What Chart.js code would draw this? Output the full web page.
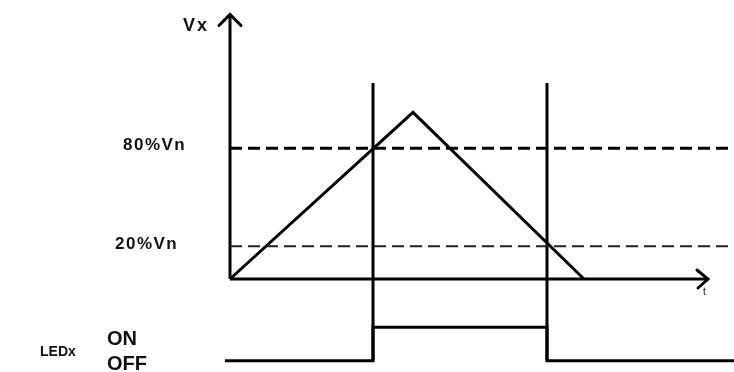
<!DOCTYPE html>
<html>
<head>
<meta charset="utf-8">
<script src="https://cdn.jsdelivr.net/npm/chart.js@4.4.1/dist/chart.umd.min.js"></script>
<style>
  html, body { margin: 0; padding: 0; background: #fff; }
  #wrap { width: 734px; height: 372px; }
</style>
</head>
<body>
<div id="wrap"><canvas id="chart" width="734" height="372"></canvas></div>
<script>
// Signal Vx (en %Vn) en fonction du temps
const rampTime = [0, 18.3, 35.4];
const rampLevel = [0, 102, 0];

// Seuils
const thresholdLevels = [80, 20];
const thresholdLabels = ['80%Vn', '20%Vn'];

// Instants de commutation de la LED
const switchTimes = [14.3, 31.7];
const switchTop = 120;

// Etat de la LED (bas = OFF, haut = ON)
const ledTime = [-0.5, 14.3, 14.3, 31.7, 31.7, 50.4];
const ledLevel = [-50, -50, -29.5, -29.5, -50, -50];
const ledStates = ['ON', 'OFF'];

// Axes
const axisTime = [0, 47.8];
const axisLevel = [0, 162];

function pts(xs, ys) {
    return xs.map((x, i) => ({ x: x, y: ys[i] }));
}

const datasets = [];

// Seuil 80 % (trait épais) et 20 % (trait fin)
datasets.push({
    data: pts([0, 50.4], [thresholdLevels[0], thresholdLevels[0]]),
    borderColor: '#000', borderWidth: 3, borderDash: [12, 6]
});
datasets.push({
    data: pts([0, 50.4], [thresholdLevels[1], thresholdLevels[1]]),
    borderColor: '#222', borderWidth: 2, borderDash: [12, 6]
});

// Axes
datasets.push({ data: pts([0, 0], [0, axisLevel[1]]), borderColor: '#000', borderWidth: 3 });
datasets.push({ data: pts([0, axisTime[1]], [0, 0]), borderColor: '#000', borderWidth: 3 });

// Rampe
datasets.push({ data: pts(rampTime, rampLevel), borderColor: '#000', borderWidth: 3 });

// Lignes de commutation
switchTimes.forEach((t) => {
    datasets.push({ data: pts([t, t], [switchTop, -50]), borderColor: '#000', borderWidth: 3 });
});

// Signal LED
datasets.push({ data: pts(ledTime, ledLevel), borderColor: '#000', borderWidth: 3 });

// Plugin pour les flèches et les textes
const annotations = {
    id: 'annotations',
    afterDatasetsDraw(chart) {
        const ctx = chart.ctx;
        const xs = chart.scales.x;
        const ys = chart.scales.y;
        const x0 = xs.getPixelForValue(0);
        const y0 = ys.getPixelForValue(0);
        const yTop = ys.getPixelForValue(axisLevel[1]);
        const xEnd = xs.getPixelForValue(axisTime[1]);

        ctx.save();
        ctx.strokeStyle = '#000';
        ctx.lineWidth = 3;
        ctx.lineCap = 'round';

        // flèche verticale
        ctx.beginPath();
        ctx.moveTo(x0 - 11, yTop + 11);
        ctx.lineTo(x0, yTop);
        ctx.lineTo(x0 + 11, yTop + 11);
        ctx.stroke();

        // flèche horizontale
        ctx.beginPath();
        ctx.moveTo(xEnd - 11, y0 - 9);
        ctx.lineTo(xEnd, y0);
        ctx.lineTo(xEnd - 10, y0 + 9);
        ctx.stroke();

        ctx.fillStyle = '#111';
        ctx.textBaseline = 'middle';
        ctx.textAlign = 'left';

        ctx.font = 'bold 18px "Liberation Sans", Arial, sans-serif';
        ctx.letterSpacing = '2px';
        ctx.fillText('Vx', 183, yTop + 12);

        ctx.font = 'bold 17px "Liberation Sans", Arial, sans-serif';
        ctx.letterSpacing = '1.5px';
        ctx.fillText(thresholdLabels[0], 123, ys.getPixelForValue(thresholdLevels[0]) - 3);
        ctx.fillText(thresholdLabels[1], 115, ys.getPixelForValue(thresholdLevels[1]) - 2);

        ctx.letterSpacing = '0px';
        ctx.font = '10px "Liberation Sans", Arial, sans-serif';
        ctx.fillText('t', xEnd - 5, y0 + 13);

        ctx.font = 'bold 14px "Liberation Sans", Arial, sans-serif';
        ctx.fillText('LEDx', 40, ys.getPixelForValue(-45));

        ctx.font = 'bold 20px "Liberation Sans", Arial, sans-serif';
        ctx.fillText(ledStates[0], 107, ys.getPixelForValue(-37));
        ctx.fillText(ledStates[1], 107, ys.getPixelForValue(-52.5));
        ctx.restore();
    }
};

new Chart(document.getElementById('chart').getContext('2d'), {
    type: 'scatter',
    data: {
        datasets: datasets.map((d) => Object.assign({
            showLine: true,
            pointRadius: 0,
            tension: 0,
            fill: false
        }, d))
    },
    options: {
        responsive: false,
        animation: false,
        layout: { padding: 0 },
        plugins: { legend: { display: false }, tooltip: { enabled: false } },
        scales: {
            x: { type: 'linear', display: false, min: -23, max: 50.4 },
            y: { type: 'linear', display: false, min: -56.95, max: 170.85 }
        }
    },
    plugins: [annotations]
});
</script>
</body>
</html>
